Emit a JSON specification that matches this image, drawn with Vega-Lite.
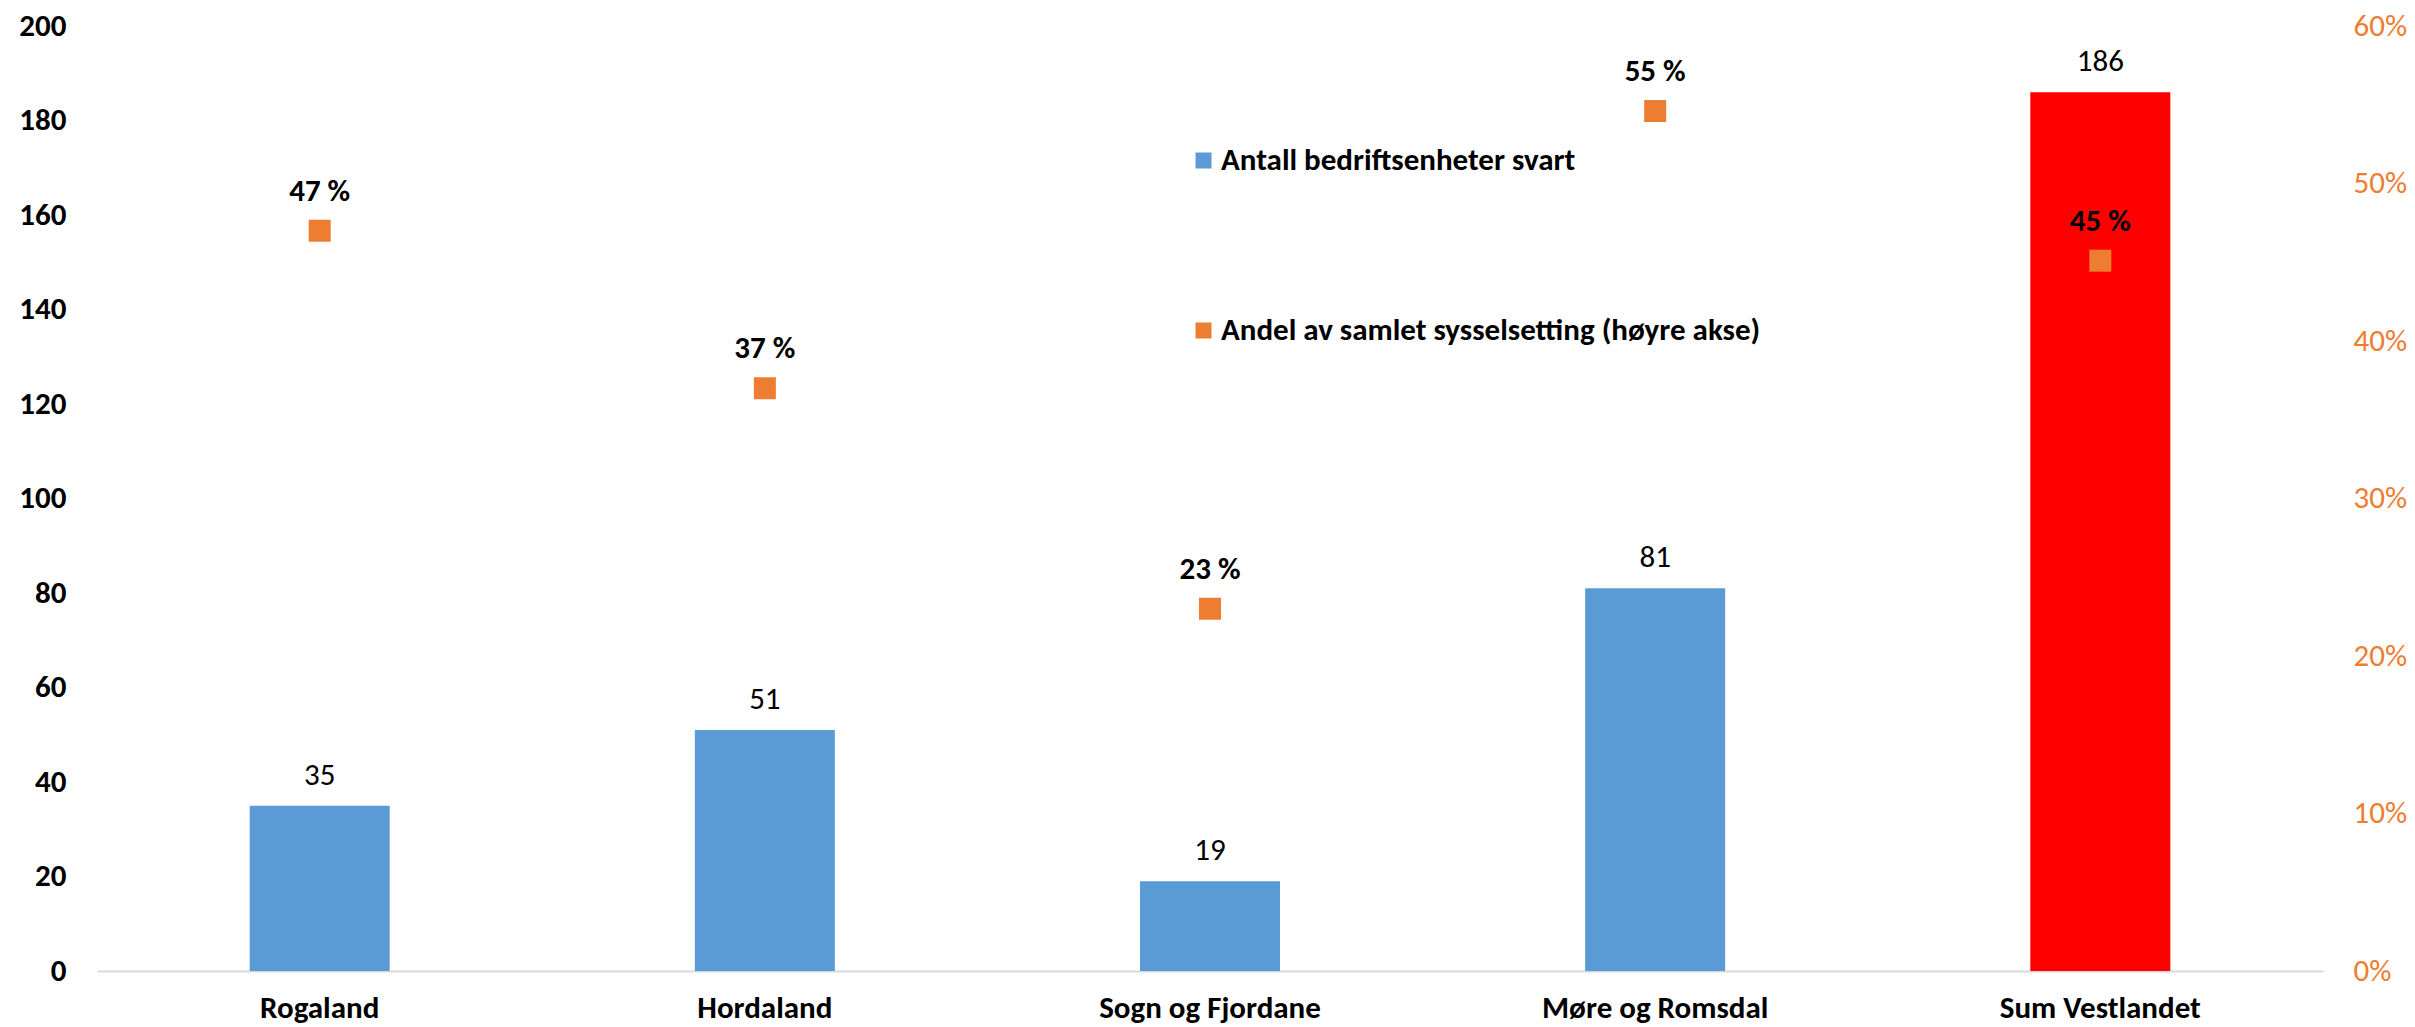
{
  "$schema": "https://vega.github.io/schema/vega-lite/v6.json",
  "width": 2226,
  "height": 945,
  "autosize": {"type": "none"},
  "padding": {"left": 97, "top": 26, "right": 92, "bottom": 56},
  "background": "white",
  "config": {"view": {"stroke": null}, "font": "Carlito, Calibri, 'Liberation Sans Narrow', 'Liberation Sans', sans-serif"},
  "data": {"values": [
    {"region": "Rogaland", "antall": 35, "andel": 0.47, "andel_tekst": "47 %"},
    {"region": "Hordaland", "antall": 51, "andel": 0.37, "andel_tekst": "37 %"},
    {"region": "Sogn og Fjordane", "antall": 19, "andel": 0.23, "andel_tekst": "23 %"},
    {"region": "Møre og Romsdal", "antall": 81, "andel": 0.546, "andel_tekst": "55 %"},
    {"region": "Sum Vestlandet", "antall": 186, "andel": 0.451, "andel_tekst": "45 %"}
  ]},
  "encoding": {
    "x": {"field": "region", "type": "nominal", "sort": null,
      "scale": {"paddingInner": 0.6855, "paddingOuter": 0.343},
      "axis": {"title": null, "labelAngle": 0, "labelLimit": 2000, "labelFont": "Carlito, Calibri, 'Liberation Sans Narrow', 'Liberation Sans', sans-serif", "labelFontSize": 31, "labelFontWeight": "bold", "labelColor": "#000000", "labelPadding": 22, "labelBaseline": "top", "ticks": false, "domainColor": "#D9D9D9", "domainWidth": 2}}
  },
  "layer": [
    {
      "encoding": {"y": {"field": "antall", "type": "quantitative", "scale": {"domain": [0, 200]},
        "axis": {"title": null, "orient": "left", "values": [0, 20, 40, 60, 80, 100, 120, 140, 160, 180, 200], "grid": false, "domain": false, "ticks": false, "labelPadding": 31, "labelFont": "Carlito, Calibri, 'Liberation Sans Narrow', 'Liberation Sans', sans-serif", "labelFontSize": 31, "labelFontWeight": "bold", "labelColor": "#000000"}}},
      "layer": [
        {"mark": {"type": "bar"},
          "encoding": {"color": {
            "condition": {"test": "datum.region === 'Sum Vestlandet'", "value": "#FF0000"},
            "datum": "Antall bedriftsenheter svart", "type": "nominal",
            "scale": {"domain": ["Antall bedriftsenheter svart", "Andel av samlet sysselsetting (høyre akse)"], "range": ["#5B9BD5", "#ED7D31"]},
            "legend": {"orient": "none", "legendX": 1091, "legendY": 119, "title": null, "symbolType": "square", "symbolSize": 256, "symbolStrokeWidth": 0, "labelFont": "Carlito, Calibri, 'Liberation Sans Narrow', 'Liberation Sans', sans-serif", "labelFontSize": 31, "labelFontWeight": "bold", "labelColor": "#000000", "labelOffset": 2, "rowPadding": 138, "padding": 0, "labelLimit": 2000}}}},
        {"mark": {"type": "text", "baseline": "alphabetic", "dy": -21, "fontSize": 31, "color": "#000000"},
          "encoding": {"text": {"field": "antall", "type": "quantitative"}}}
      ]
    },
    {
      "encoding": {"y": {"field": "andel", "type": "quantitative", "scale": {"domain": [0, 0.6]},
        "axis": {"title": null, "orient": "right", "values": [0, 0.1, 0.2, 0.3, 0.4, 0.5, 0.6], "format": ".0%", "grid": false, "domain": false, "ticks": false, "labelPadding": 30, "labelFont": "Carlito, Calibri, 'Liberation Sans Narrow', 'Liberation Sans', sans-serif", "labelFontSize": 31, "labelColor": "#ED7D31"}}},
      "layer": [
        {"mark": {"type": "point", "shape": "square", "filled": true, "size": 484, "opacity": 1},
          "encoding": {"color": {"datum": "Andel av samlet sysselsetting (høyre akse)", "type": "nominal"}}},
        {"mark": {"type": "text", "baseline": "alphabetic", "dy": -30, "fontSize": 31, "fontWeight": "bold", "color": "#000000"},
          "encoding": {"text": {"field": "andel_tekst", "type": "nominal"}}}
      ]
    }
  ],
  "resolve": {"scale": {"y": "independent"}}
}
